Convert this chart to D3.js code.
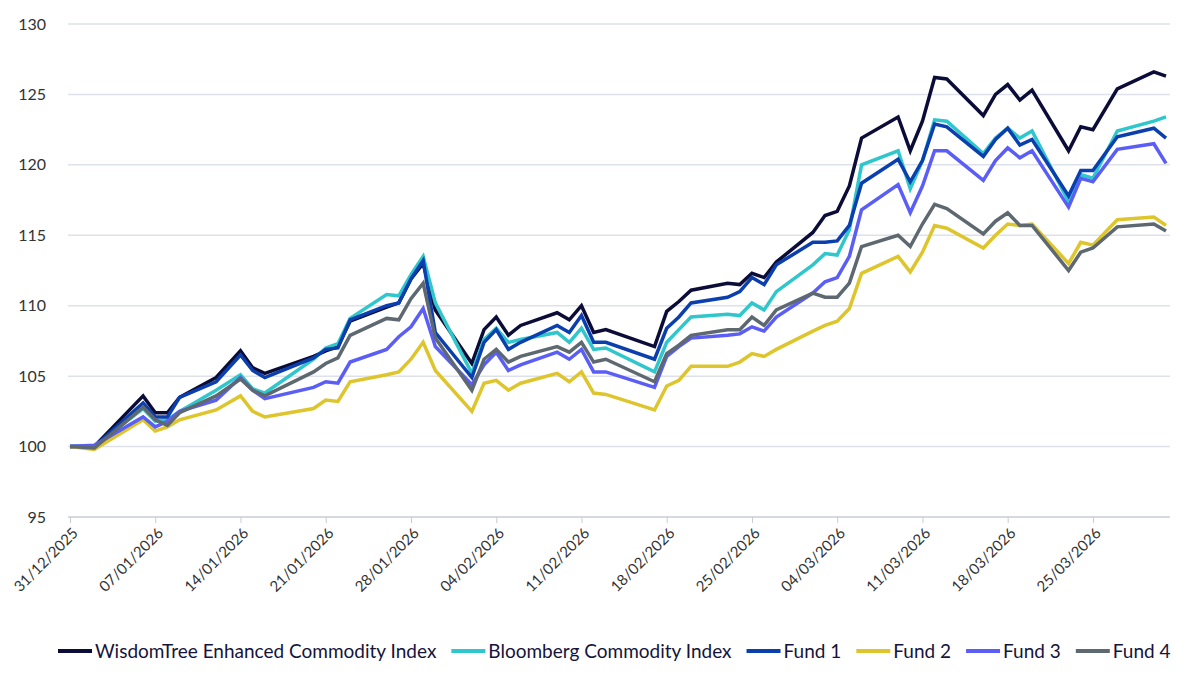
<!DOCTYPE html>
<html>
<head>
<meta charset="utf-8">
<script src="https://cdn.jsdelivr.net/npm/d3@7"></script>
<style>
  body { margin: 0; background: #fff; font-family: Lato, "Open Sans", sans-serif; }
</style>
</head>
<body>
<svg id="chart" width="1200" height="691"></svg>
<script>
const dates = ['2025-12-31','2026-01-02','2026-01-06','2026-01-07','2026-01-08','2026-01-09','2026-01-12','2026-01-14','2026-01-15','2026-01-16',
  '2026-01-20','2026-01-21','2026-01-22','2026-01-23','2026-01-26','2026-01-27','2026-01-28','2026-01-29','2026-01-30',
  '2026-02-02','2026-02-03','2026-02-04','2026-02-05','2026-02-06','2026-02-09','2026-02-10','2026-02-11','2026-02-12','2026-02-13',
  '2026-02-17','2026-02-18','2026-02-19','2026-02-20','2026-02-23','2026-02-24','2026-02-25','2026-02-26','2026-02-27',
  '2026-03-02','2026-03-03','2026-03-04','2026-03-05','2026-03-06','2026-03-09','2026-03-10','2026-03-11','2026-03-12','2026-03-13',
  '2026-03-16','2026-03-17','2026-03-18','2026-03-19','2026-03-20','2026-03-23','2026-03-24','2026-03-25','2026-03-27','2026-03-30','2026-03-31'];

const wisdomTree = [100,100,103.6,102.4,102.4,103.5,104.9,106.8,105.6,105.2,
  106.4,106.8,107.1,108.9,109.9,110.2,111.9,113.0,109.7,
  105.9,108.3,109.2,107.9,108.6,109.5,109.0,110.0,108.1,108.3,
  107.1,109.6,110.3,111.1,111.6,111.5,112.3,112.0,113.1,
  115.2,116.4,116.7,118.5,121.9,123.4,121.0,123.1,126.2,126.1,
  123.5,125.0,125.7,124.6,125.3,121.0,122.7,122.5,125.4,126.6,126.3];
const bloomberg = [100,100,102.7,101.8,101.9,102.5,104.0,105.1,104.1,103.8,
  106.2,107.0,107.3,109.1,110.8,110.7,112.2,113.5,110.2,
  105.2,107.6,108.4,107.4,107.6,108.1,107.4,108.4,106.9,107.0,
  105.3,107.4,108.3,109.2,109.4,109.3,110.2,109.7,111.0,
  112.9,113.7,113.6,115.4,120.0,121.0,118.3,120.3,123.2,123.1,
  120.8,121.9,122.6,121.9,122.4,117.4,119.3,119.05,122.4,123.1,123.4];
const fund1 = [100,100,103.1,102.1,102.1,103.5,104.6,106.5,105.4,104.9,
  106.3,106.9,107.0,109.0,110.0,110.2,111.9,113.2,108.1,
  104.9,107.4,108.3,106.9,107.4,108.6,108.1,109.3,107.4,107.4,
  106.2,108.4,109.2,110.2,110.6,111.0,112.0,111.5,112.9,
  114.5,114.5,114.6,115.7,118.7,120.4,118.8,120.3,122.9,122.7,
  120.6,121.8,122.6,121.4,121.8,117.8,119.6,119.6,122.0,122.6,121.9];
const fund2 = [100,99.8,101.9,101.1,101.4,101.9,102.6,103.6,102.5,102.1,
  102.7,103.3,103.2,104.6,105.1,105.3,106.2,107.4,105.4,
  102.5,104.5,104.7,104.0,104.5,105.2,104.6,105.3,103.8,103.7,
  102.6,104.3,104.7,105.7,105.7,106.0,106.6,106.4,106.9,
  108.2,108.6,108.9,109.8,112.3,113.5,112.4,113.8,115.7,115.5,
  114.1,115.0,115.8,115.7,115.8,113.0,114.5,114.3,116.1,116.3,115.7];
const fund3 = [100,100.1,102.1,101.4,101.8,102.5,103.3,104.9,104.0,103.4,
  104.2,104.6,104.5,106.0,106.9,107.8,108.5,109.8,107.1,
  104.4,105.8,106.7,105.4,105.8,106.7,106.2,106.9,105.3,105.3,
  104.2,106.4,107.1,107.7,107.9,108.0,108.5,108.2,109.2,
  110.9,111.7,112.0,113.5,116.8,118.6,116.6,118.5,121.0,121.0,
  118.9,120.3,121.2,120.5,121.0,117.0,119.05,118.8,121.1,121.5,120.1];
const fund4 = [100,99.9,102.8,101.9,101.5,102.4,103.6,104.8,104.0,103.6,
  105.3,105.9,106.3,107.9,109.1,109.0,110.5,111.6,107.7,
  104.0,106.2,106.9,106.0,106.4,107.1,106.7,107.4,106.0,106.2,
  104.6,106.6,107.2,107.9,108.3,108.3,109.2,108.6,109.7,
  110.9,110.6,110.6,111.6,114.2,115.0,114.2,115.8,117.2,116.9,
  115.1,116.0,116.6,115.7,115.7,112.5,113.8,114.1,115.6,115.8,115.3];

const seriesNames = ['WisdomTree Enhanced Commodity Index','Bloomberg Commodity Index','Fund 1','Fund 2','Fund 3','Fund 4'];
const seriesValues = [wisdomTree, bloomberg, fund1, fund2, fund3, fund4];
const seriesColors = ['#0c0c38','#2fc6cc','#0b3fae','#ddc52b','#5b5ef6','#5d6870'];
const yTicks = [95,100,105,110,115,120,125,130];
const xTickDates = ['2025-12-31','2026-01-07','2026-01-14','2026-01-21','2026-01-28','2026-02-04','2026-02-11','2026-02-18','2026-02-25','2026-03-04','2026-03-11','2026-03-18','2026-03-25'];

const parse = d3.timeParse('%Y-%m-%d');
const fmt = d3.timeFormat('%d/%m/%Y');
const svg = d3.select('#chart');

const x = d3.scaleTime()
    .domain([parse('2025-12-31'), parse('2026-03-31')])
    .range([70, 1166]);
const y = d3.scaleLinear().domain([95, 130]).range([517, 24]);

// gridlines
svg.append('g').selectAll('line')
    .data(yTicks.slice(1))
    .enter().append('line')
    .attr('x1', 68).attr('x2', 1170)
    .attr('y1', d => y(d)).attr('y2', d => y(d))
    .attr('stroke', '#dde2ea').attr('stroke-width', 1.5);

// y axis labels
svg.append('g').selectAll('text')
    .data(yTicks)
    .enter().append('text')
    .attr('x', 46).attr('y', d => y(d))
    .attr('dy', '0.35em')
    .attr('text-anchor', 'end')
    .style('font-size', '16px')
    .style('fill', '#333')
    .text(d => d);

// x axis
const xAxis = svg.append('g')
    .attr('transform', `translate(0, ${y(95)})`)
    .call(d3.axisBottom(x).tickValues(xTickDates.map(parse)).tickFormat(fmt).tickSizeOuter(0).tickSize(6));
xAxis.select('.domain').attr('stroke', '#c8ccd2').attr('stroke-width', 1.5).attr('d', 'M68,0H1170');
xAxis.selectAll('.tick line').attr('stroke', '#c8ccd2');
xAxis.selectAll('.tick text')
    .attr('transform', 'rotate(-45)')
    .attr('text-anchor', 'end')
    .attr('dx', '-0.4em').attr('dy', '0.6em')
    .style('font-family', 'Lato, sans-serif')
    .style('font-size', '15px')
    .style('fill', '#333');

// lines
const line = d3.line()
    .x((d, i) => x(parse(dates[i])))
    .y(d => y(d));

svg.append('g').selectAll('path')
    .data(seriesValues)
    .enter().append('path')
    .attr('d', line)
    .attr('fill', 'none')
    .attr('stroke', (d, i) => seriesColors[i])
    .attr('stroke-width', 3.5)
    .attr('stroke-linejoin', 'miter');

// legend
const legend = svg.append('g').attr('transform', 'translate(0, 651)');
let lx = 58;
seriesNames.forEach((name, i) => {
    const g = legend.append('g').attr('transform', `translate(${lx}, 0)`);
    g.append('line').attr('x1', 0).attr('x2', 34).attr('y1', 0).attr('y2', 0)
        .attr('stroke', seriesColors[i]).attr('stroke-width', 4);
    const t = g.append('text').attr('x', 37).attr('y', 0).attr('dy', '0.35em')
        .style('font-size', '19px').style('fill', '#14143c').text(name);
    lx += 37 + t.node().getComputedTextLength() + 15;
});
</script>
</body>
</html>
